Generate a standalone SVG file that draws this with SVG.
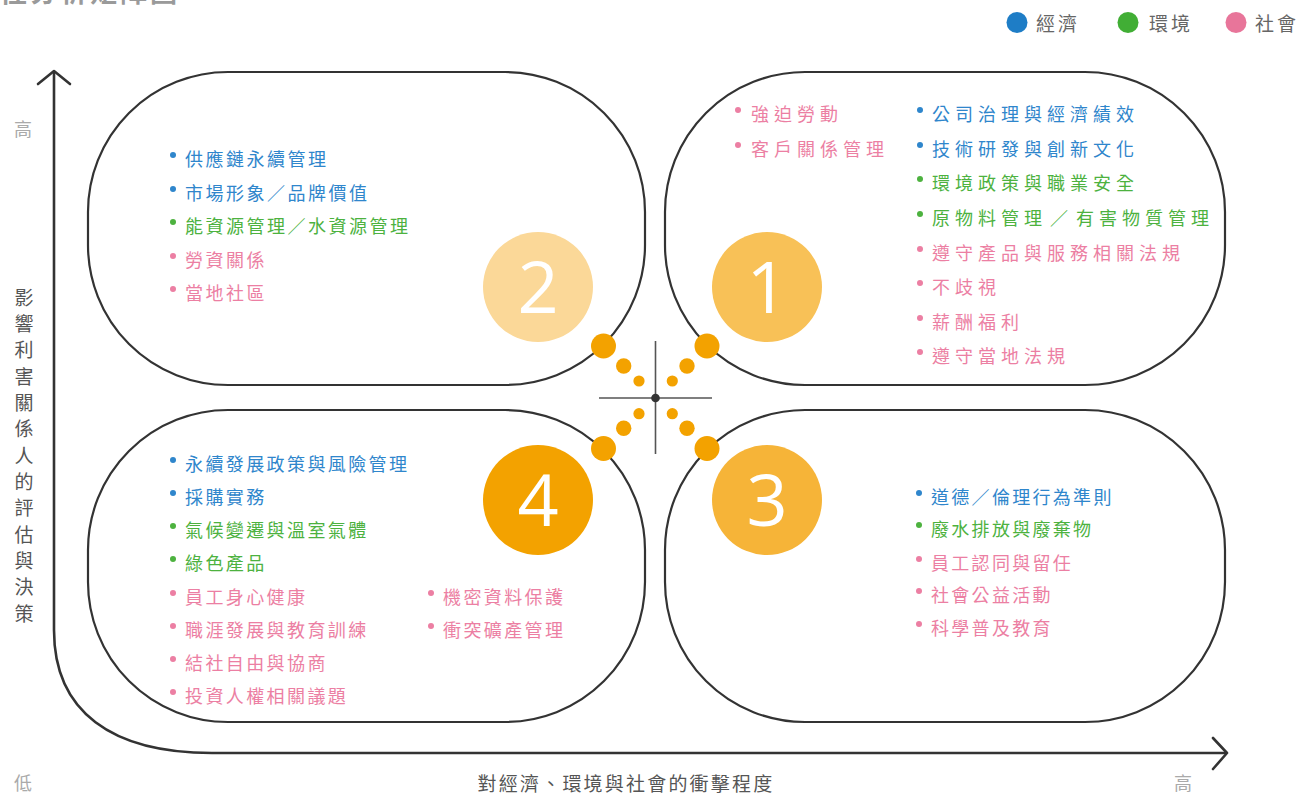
<svg xmlns="http://www.w3.org/2000/svg" width="1300" height="796" viewBox="0 0 1300 796">
<style>
text{font-family:"Noto Sans CJK TC","Noto Sans CJK SC",sans-serif;}
.blob{fill:#fff;stroke:#333;stroke-width:2.2;}
.axis{fill:none;stroke:#333;stroke-width:2.6;stroke-linecap:round;stroke-linejoin:round;}
.it{font-size:18px;dominant-baseline:central;}
.tl{letter-spacing:2.5px;}
.tr{letter-spacing:5px;}
.bl{letter-spacing:2.4px;}
.br{letter-spacing:2.3px;}
.b{fill:#2F86CC;}
.g{fill:#4DB23F;}
.p{fill:#EC7FA3;}
.num{font-family:"Open Sans","Liberation Sans",sans-serif;font-size:72px;fill:#fff;text-anchor:middle;}
.dot{fill:#F3A200;}
.lab{fill:#555;font-size:19px;dominant-baseline:central;}
.lo{fill:#aaa;font-size:18px;dominant-baseline:central;text-anchor:middle;}
.leg{fill:#666;font-size:19px;letter-spacing:3px;dominant-baseline:central;}
</style>

<text x="0" y="2" style="font-size:27px;font-weight:bold;fill:#9a9a9a;letter-spacing:3px">性分析矩陣圖</text>

<g id="legend">
  <circle cx="1017" cy="22.5" r="10.5" fill="#1E7DC6"/>
  <text class="leg" x="1036" y="22.5">經濟</text>
  <circle cx="1128" cy="22.5" r="10.5" fill="#41AE35"/>
  <text class="leg" x="1149" y="22.5">環境</text>
  <circle cx="1236" cy="22.5" r="10.5" fill="#E8759A"/>
  <text class="leg" x="1255" y="22.5">社會</text>
</g>

<g id="axes">
  <path class="axis" d="M54,72 V630 C54,712 112,753 212,753 H1226"/>
  <polyline class="axis" points="38,84 54,71 70,84"/>
  <polyline class="axis" points="1213,738 1227,753 1213,769"/>
  <text class="lo" x="23" y="128">高</text>
  <text class="lo" x="23" y="782">低</text>
  <text class="lo" x="1183" y="782">高</text>
  <text class="lab" x="626" y="782" text-anchor="middle" style="letter-spacing:2.2px">對經濟、環境與社會的衝擊程度</text>
  <text class="lab" x="24" y="296" text-anchor="middle">影</text>
  <text class="lab" x="24" y="322.3" text-anchor="middle">響</text>
  <text class="lab" x="24" y="348.7" text-anchor="middle">利</text>
  <text class="lab" x="24" y="375" text-anchor="middle">害</text>
  <text class="lab" x="24" y="401.3" text-anchor="middle">關</text>
  <text class="lab" x="24" y="427.7" text-anchor="middle">係</text>
  <text class="lab" x="24" y="454" text-anchor="middle">人</text>
  <text class="lab" x="24" y="480.3" text-anchor="middle">的</text>
  <text class="lab" x="24" y="506.7" text-anchor="middle">評</text>
  <text class="lab" x="24" y="533" text-anchor="middle">估</text>
  <text class="lab" x="24" y="559.3" text-anchor="middle">與</text>
  <text class="lab" x="24" y="585.7" text-anchor="middle">決</text>
  <text class="lab" x="24" y="612" text-anchor="middle">策</text>
</g>

<g id="q2">
  <rect class="blob" x="88" y="72" width="557" height="313" rx="140" ry="140"/>
  <circle cx="538" cy="287" r="55" fill="#FBD898"/>
  <text class="num" x="538" y="313">2</text>
  <circle class="b" cx="173" cy="155" r="3"/><text class="it tl b" x="185" y="158">供應鏈永續管理</text>
  <circle class="b" cx="173" cy="189" r="3"/><text class="it tl b" x="185" y="192">市場形象／品牌價值</text>
  <circle class="g" cx="173" cy="222" r="3"/><text class="it tl g" x="185" y="225">能資源管理／水資源管理</text>
  <circle class="p" cx="173" cy="256" r="3"/><text class="it tl p" x="185" y="259">勞資關係</text>
  <circle class="p" cx="173" cy="289" r="3"/><text class="it tl p" x="185" y="292">當地社區</text>
</g>

<g id="q1">
  <rect class="blob" x="665" y="72" width="560" height="313" rx="140" ry="140"/>
  <circle cx="767" cy="287" r="55" fill="#F8C157"/>
  <text class="num" x="767" y="313">1</text>
  <circle class="p" cx="738" cy="110" r="3"/><text class="it tr p" x="751" y="113">強迫勞動</text>
  <circle class="p" cx="738" cy="145" r="3"/><text class="it tr p" x="751" y="148">客戶關係管理</text>
  <circle class="b" cx="920" cy="110" r="3"/><text class="it tr b" x="932" y="113">公司治理與經濟績效</text>
  <circle class="b" cx="920" cy="145" r="3"/><text class="it tr b" x="932" y="148">技術研發與創新文化</text>
  <circle class="g" cx="920" cy="179" r="3"/><text class="it tr g" x="932" y="182">環境政策與職業安全</text>
  <circle class="g" cx="920" cy="214" r="3"/><text class="it tr g" x="932" y="217">原物料管理<tspan dx="3">／</tspan><tspan dx="3">有害物質管理</tspan></text>
  <circle class="p" cx="920" cy="249" r="3"/><text class="it tr p" x="932" y="252">遵守產品與服務相關法規</text>
  <circle class="p" cx="920" cy="283" r="3"/><text class="it tr p" x="932" y="286">不歧視</text>
  <circle class="p" cx="920" cy="318" r="3"/><text class="it tr p" x="932" y="321">薪酬福利</text>
  <circle class="p" cx="920" cy="352" r="3"/><text class="it tr p" x="932" y="355">遵守當地法規</text>
</g>

<g id="q4">
  <rect class="blob" x="88" y="410" width="557" height="312" rx="140" ry="140"/>
  <circle cx="538" cy="500" r="55" fill="#F3A200"/>
  <text class="num" x="538" y="526">4</text>
  <circle class="b" cx="173" cy="460" r="3"/><text class="it bl b" x="185" y="463">永續發展政策與風險管理</text>
  <circle class="b" cx="173" cy="493" r="3"/><text class="it bl b" x="185" y="496">採購實務</text>
  <circle class="g" cx="173" cy="526" r="3"/><text class="it bl g" x="185" y="529">氣候變遷與溫室氣體</text>
  <circle class="g" cx="173" cy="559" r="3"/><text class="it bl g" x="185" y="562">綠色產品</text>
  <circle class="p" cx="173" cy="593" r="3"/><text class="it bl p" x="185" y="596">員工身心健康</text>
  <circle class="p" cx="173" cy="626" r="3"/><text class="it bl p" x="185" y="629">職涯發展與教育訓練</text>
  <circle class="p" cx="173" cy="659" r="3"/><text class="it bl p" x="185" y="662">結社自由與協商</text>
  <circle class="p" cx="173" cy="692" r="3"/><text class="it bl p" x="185" y="695">投資人權相關議題</text>
  <circle class="p" cx="431" cy="593" r="3"/><text class="it bl p" x="443" y="596">機密資料保護</text>
  <circle class="p" cx="431" cy="626" r="3"/><text class="it bl p" x="443" y="629">衝突礦產管理</text>
</g>

<g id="q3">
  <rect class="blob" x="665" y="410" width="560" height="312" rx="140" ry="140"/>
  <circle cx="767" cy="500" r="55" fill="#F6B438"/>
  <text class="num" x="767" y="526">3</text>
  <circle class="b" cx="919" cy="493" r="3"/><text class="it br b" x="931" y="496">道德／倫理行為準則</text>
  <circle class="g" cx="919" cy="525" r="3"/><text class="it br g" x="931" y="528">廢水排放與廢棄物</text>
  <circle class="p" cx="919" cy="559" r="3"/><text class="it br p" x="931" y="562">員工認同與留任</text>
  <circle class="p" cx="919" cy="591" r="3"/><text class="it br p" x="931" y="594">社會公益活動</text>
  <circle class="p" cx="919" cy="624" r="3"/><text class="it br p" x="931" y="627">科學普及教育</text>
</g>

<g id="connectors">
  <line x1="599" y1="398" x2="712" y2="398" stroke="#555" stroke-width="1.6"/>
  <line x1="655.5" y1="341" x2="655.5" y2="454" stroke="#555" stroke-width="1.6"/>
  <circle cx="655.5" cy="398" r="4.3" fill="#333"/>
  <circle class="dot" cx="603.5" cy="346" r="12.5"/>
  <circle class="dot" cx="623.7" cy="366" r="7.7"/>
  <circle class="dot" cx="639" cy="381" r="5.6"/>
  <circle class="dot" cx="707" cy="346" r="12.5"/>
  <circle class="dot" cx="687" cy="366" r="7.7"/>
  <circle class="dot" cx="672.3" cy="381" r="5.6"/>
  <circle class="dot" cx="603.5" cy="448.5" r="12.5"/>
  <circle class="dot" cx="623.7" cy="428.3" r="7.7"/>
  <circle class="dot" cx="639" cy="413.7" r="5.6"/>
  <circle class="dot" cx="707" cy="448.5" r="12.5"/>
  <circle class="dot" cx="687" cy="428.3" r="7.7"/>
  <circle class="dot" cx="672.3" cy="413.7" r="5.6"/>
</g>
</svg>
